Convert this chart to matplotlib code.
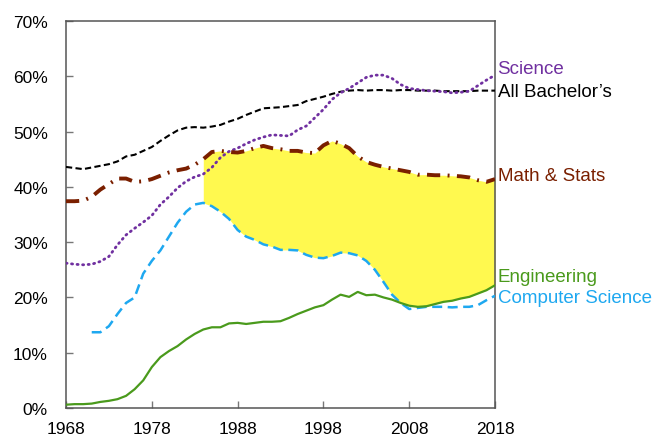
import numpy as np
import matplotlib
matplotlib.use('Agg')
import matplotlib.pyplot as plt
import matplotlib.transforms as mtransforms

# Share of bachelor's degrees earned by women, by field (percent)
years = list(range(1968, 2019))

all_bachelors = [43.6, 43.4, 43.2, 43.5, 43.8, 44.1, 44.6, 45.5, 45.8, 46.5,
                 47.2, 48.3, 49.3, 50.2, 50.7, 50.8, 50.7, 50.9, 51.2, 51.8,
                 52.3, 53.0, 53.6, 54.2, 54.3, 54.4, 54.6, 54.8, 55.5, 55.9,
                 56.3, 56.8, 57.2, 57.4, 57.5, 57.4, 57.5, 57.5, 57.4, 57.5,
                 57.5, 57.4, 57.4, 57.4, 57.3, 57.3, 57.3, 57.3, 57.4, 57.4,
                 57.4]

science = [26.2, 26.0, 25.9, 26.0, 26.5, 27.4, 29.5, 31.3, 32.5, 33.6,
           34.8, 36.8, 38.2, 39.8, 41.0, 41.8, 42.3, 43.5, 45.3, 46.4,
           47.0, 47.8, 48.5, 49.0, 49.4, 49.3, 49.2, 50.3, 51.0, 52.5,
           54.0, 55.8, 57.0, 57.8, 58.8, 59.8, 60.2, 60.2, 59.6, 58.5,
           57.8, 57.6, 57.4, 57.3, 57.2, 57.0, 57.1, 57.3, 58.3, 59.3,
           60.2]

math_stats = [37.4, 37.4, 37.5, 38.2, 39.5, 40.5, 41.5, 41.5, 40.9, 41.0,
              41.4, 42.0, 42.6, 43.0, 43.3, 44.0, 45.0, 46.3, 46.5, 46.3,
              46.2, 46.5, 47.0, 47.4, 47.0, 46.8, 46.5, 46.5, 46.2, 46.1,
              47.5, 48.3, 47.8, 47.0, 45.5, 44.5, 44.0, 43.6, 43.3, 43.0,
              42.7, 42.2, 42.2, 42.1, 42.1, 42.0, 41.9, 41.7, 41.2, 40.9,
              41.4]

# no data before 1971
comp_sci = [np.nan, np.nan, np.nan,
            13.7, 13.7, 14.8, 17.0, 19.0, 20.0, 24.3,
            26.6, 28.5, 31.0, 33.5, 35.5, 36.8, 37.1, 36.5, 35.5, 34.2,
            32.2, 31.0, 30.4, 29.6, 29.2, 28.6, 28.6, 28.5, 27.7, 27.2,
            27.1, 27.5, 28.1, 28.0, 27.6, 26.6, 25.0, 22.8, 20.5, 19.0,
            17.9, 18.1, 18.3, 18.3, 18.3, 18.2, 18.3, 18.3, 18.6, 19.5,
            20.3]

engineering = [0.6, 0.7, 0.7, 0.8, 1.1, 1.3, 1.6, 2.2, 3.4, 5.0,
               7.4, 9.2, 10.3, 11.2, 12.4, 13.4, 14.2, 14.6, 14.6, 15.3,
               15.4, 15.2, 15.4, 15.6, 15.6, 15.7, 16.3, 17.0, 17.6, 18.2,
               18.6, 19.6, 20.5, 20.1, 21.0, 20.4, 20.5, 20.0, 19.6, 19.0,
               18.5, 18.3, 18.4, 18.8, 19.2, 19.4, 19.8, 20.1, 20.7, 21.3,
               22.2]

gap_start = 1984

plt.rcParams['font.family'] = ['Liberation Sans', 'DejaVu Sans']

fig = plt.figure(figsize=(6.56, 4.39), dpi=100)
ax = fig.add_axes([0.1006, 0.0683, 0.654, 0.8817])

x = np.array(years)
# yellow gap: between math & stats and the higher of CS / engineering
lower = np.fmax(np.array(comp_sci), np.array(engineering))
ax.fill_between(x, lower, math_stats, where=x >= gap_start,
                color='#FFF94F', linewidth=0, zorder=1)

ax.plot(x, all_bachelors, color='black', lw=1.5, dashes=(3, 1.6), zorder=3)
ax.plot(x, science, color='#7030A0', lw=2.0, dashes=(0.4, 1.6),
        dash_capstyle='round', zorder=3)
ax.plot(x, math_stats, color='#7A1F00', lw=2.8, dashes=(3.4, 1.9, 0.5, 1.9),
        zorder=3)
ax.plot(x, comp_sci, color='#1EA8F0', lw=1.8, dashes=(4, 2.2), zorder=3)
ax.plot(x, engineering, color='#4A9A1C', lw=1.6, zorder=3)

# series labels to the right of the plot
trans = mtransforms.blended_transform_factory(ax.transAxes, ax.transData)
labels = [("Science", 61.4, '#7030A0'),
          ("All Bachelor\u2019s", 57.3, 'black'),
          ("Math & Stats", 42.0, '#7A1F00'),
          ("Engineering", 23.7, '#4A9A1C'),
          ("Computer Science", 19.9, '#1EA8F0')]
for text, yv, col in labels:
    ax.text(1.006, yv, text, transform=trans, color=col, fontsize=13.5,
            va='center', ha='left', clip_on=False)

ax.set_xlim(1968, 2018)
ax.set_ylim(0, 70)
ax.set_xticks(range(1968, 2019, 10))
ax.set_yticks(range(0, 71, 10))
ax.set_yticklabels([f"{v}%" for v in range(0, 71, 10)])
ax.tick_params(direction='in', length=5, width=1, color='#777777',
               labelsize=12.5, top=False, right=False)
ax.tick_params(axis='y', pad=13)
ax.tick_params(axis='x', pad=9)
for sp in ax.spines.values():
    sp.set_color('#555555')
    sp.set_linewidth(1.1)

fig.savefig('out.png', dpi=100)
